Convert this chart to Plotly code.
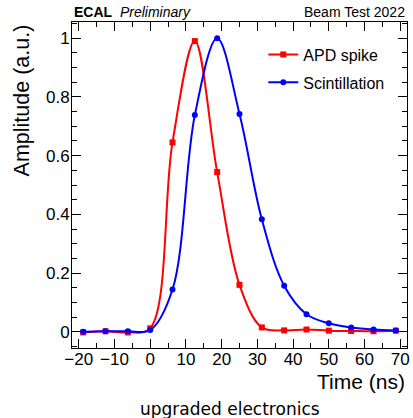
import plotly.graph_objects as go

# Sampling times (ns)
times = [-18.75, -12.5, -6.25, 0, 6.25, 12.5, 18.75, 25, 31.25, 37.5, 43.75, 50, 56.25, 62.5, 68.75]

# Normalised pulse amplitudes (a.u.)
apd_spike = [-0.002, 0.002, -0.002, 0.012, 0.645, 0.99, 0.544, 0.16, 0.015, 0.005, 0.008, 0.004, 0.003, 0.002, 0.004]
scintillation = [0.0, 0.002, 0.002, 0.006, 0.144, 0.738, 1.0, 0.742, 0.383, 0.157, 0.060, 0.029, 0.015, 0.008, 0.005]

x_range = [-21.875, 71.875]
y_range = [-0.055, 1.055]

FONT = "Liberation Sans, Arial, Helvetica, sans-serif"

fig = go.Figure()
fig.add_trace(go.Scatter(
    x=times, y=apd_spike, name="APD spike", mode="lines+markers",
    line=dict(color="#ff0000", width=2, shape="spline", smoothing=1.0),
    marker=dict(symbol="square", size=6, color="#ff0000"),
    legendgroup="a",
))
fig.add_trace(go.Scatter(
    x=times, y=scintillation, name="Scintillation", mode="lines+markers",
    line=dict(color="#0000ff", width=2, shape="spline", smoothing=1.0),
    marker=dict(symbol="circle", size=6, color="#0000ff"),
    legendgroup="b",
))

axis_common = dict(
    showline=True, linecolor="black", linewidth=1, mirror="allticks",
    ticks="inside", tickcolor="black", tickwidth=1, ticklen=9,
    showgrid=False, zeroline=False,
    tickfont=dict(family=FONT, size=17, color="black"),
)

fig.update_xaxes(range=x_range, tick0=0, dtick=10,
                 minor=dict(ticks="inside", dtick=5, ticklen=5, tickcolor="black", showgrid=False),
                 ticklabelstandoff=-4,
                 **axis_common)
fig.update_yaxes(range=y_range, tick0=0, dtick=0.2,
                 minor=dict(ticks="inside", dtick=0.05, ticklen=5, tickcolor="black", showgrid=False),
                 ticklabelstandoff=-2,
                 **axis_common)

ann = [
    dict(text="<b>ECAL</b>  <i>Preliminary</i>", x=0, y=1.0307, xanchor="left", yanchor="middle",
         font=dict(family=FONT, size=14, color="black")),
    dict(text="Beam Test 2022", x=1, y=1.0307, xanchor="right", yanchor="middle",
         font=dict(family=FONT, size=14, color="black")),
    dict(text="Amplitude (a.u.)", x=-0.148, y=1.0, xanchor="center", yanchor="top", textangle=-90,
         font=dict(family=FONT, size=21.5, color="black")),
    dict(text="Time (ns)", x=1, y=-0.1015, xanchor="right", yanchor="middle",
         font=dict(family=FONT, size=21, color="black")),
    dict(text="upgraded electronics", x=0.472, y=-0.187, xanchor="center", yanchor="middle",
         font=dict(family="DejaVu Sans", size=17, color="black")),
]
for a in ann:
    a.update(xref="paper", yref="paper", showarrow=False)

fig.update_layout(
    width=413, height=418,
    margin=dict(l=72, r=3, t=22, b=70),
    paper_bgcolor="white", plot_bgcolor="white",
    annotations=ann,
    showlegend=True,
    legend=dict(x=0.571, y=0.952, xanchor="left", yanchor="top",
                font=dict(family=FONT, size=16, color="black"),
                bgcolor="rgba(0,0,0,0)", traceorder="grouped", tracegroupgap=4),
)

fig.write_html("out.html", config={"displayModeBar": False},
               post_script="document.body.style.margin='0';document.body.style.overflow='hidden';")
